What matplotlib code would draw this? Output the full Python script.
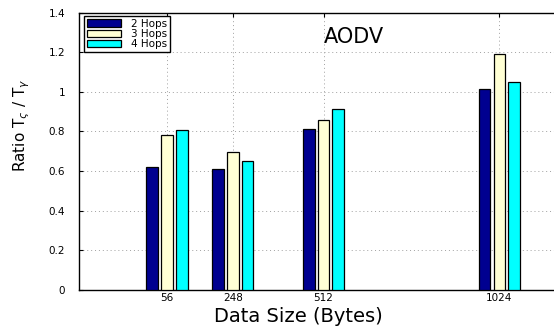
import numpy as np
import matplotlib
matplotlib.use("Agg")
import matplotlib.pyplot as plt

# data
sizes = [56, 248, 512, 1024]
hops_2 = [0.62, 0.613, 0.812, 1.014]
hops_3 = [0.784, 0.698, 0.856, 1.192]
hops_4 = [0.809, 0.651, 0.911, 1.051]
series_labels = ["2 Hops", "3 Hops", "4 Hops"]
colors = ["#000090", "#FFFFD4", "#00FFFF"]
yticks = [0, 0.2, 0.4, 0.6, 0.8, 1, 1.2, 1.4]
ytick_labels = ["0", "0.2", "0.4", "0.6", "0.8", "1", "1.2", "1.4"]

plt.rcParams["font.family"] = ["DejaVu Sans"]

fig = plt.figure(figsize=(5.54, 3.27), dpi=100)
# axes run past the right edge of the figure, as in the cropped original
ax = fig.add_axes([0.1426, 0.1131, 0.899, 0.8486])

bar_w = 34
step = 43
x = np.array(sizes, dtype=float)
for i, (vals, lab, col) in enumerate(zip([hops_2, hops_3, hops_4], series_labels, colors)):
    ax.bar(x + (i - 1) * step, vals, width=bar_w, color=col, edgecolor="black",
           linewidth=0.9, label=lab, zorder=3)

ax.set_xlim(-200, 1250)
ax.set_ylim(0, 1.4)
ax.set_xticks(sizes)
ax.set_xticklabels([str(s) for s in sizes])
ax.set_yticks(yticks)
ax.set_yticklabels(ytick_labels)
ax.tick_params(direction="in", top=True, right=True, length=3, width=0.8)
ax.tick_params(axis="y", labelsize=7.5, pad=10)
ax.tick_params(axis="x", labelsize=7.5, pad=2)
ax.grid(True, linestyle=(0, (1, 3)), color="#a0a0a0", linewidth=0.7, zorder=0)
for sp in ax.spines.values():
    sp.set_linewidth(1.0)

ax.set_xlabel("Data Size (Bytes)", fontsize=14)
ax.xaxis.set_label_coords(0.441, -0.06)
ax.set_ylabel(r"Ratio T$_{\varsigma}$ / T$_{\gamma}$", fontsize=11)
ax.yaxis.set_label_coords(-0.094, 0.595)

ax.text(0.552, 0.913, "AODV", transform=ax.transAxes, ha="center", va="center",
        fontsize=15)

leg = ax.legend(loc="upper left", bbox_to_anchor=(0.0101, 0.987), borderaxespad=0,
                fontsize=7.5, frameon=True, fancybox=False, framealpha=1,
                edgecolor="black", handlelength=3.3, handleheight=0.7,
                labelspacing=0.02, borderpad=0.25, handletextpad=1.0)
leg.get_frame().set_linewidth(1.0)

fig.savefig("out.png", dpi=100)
